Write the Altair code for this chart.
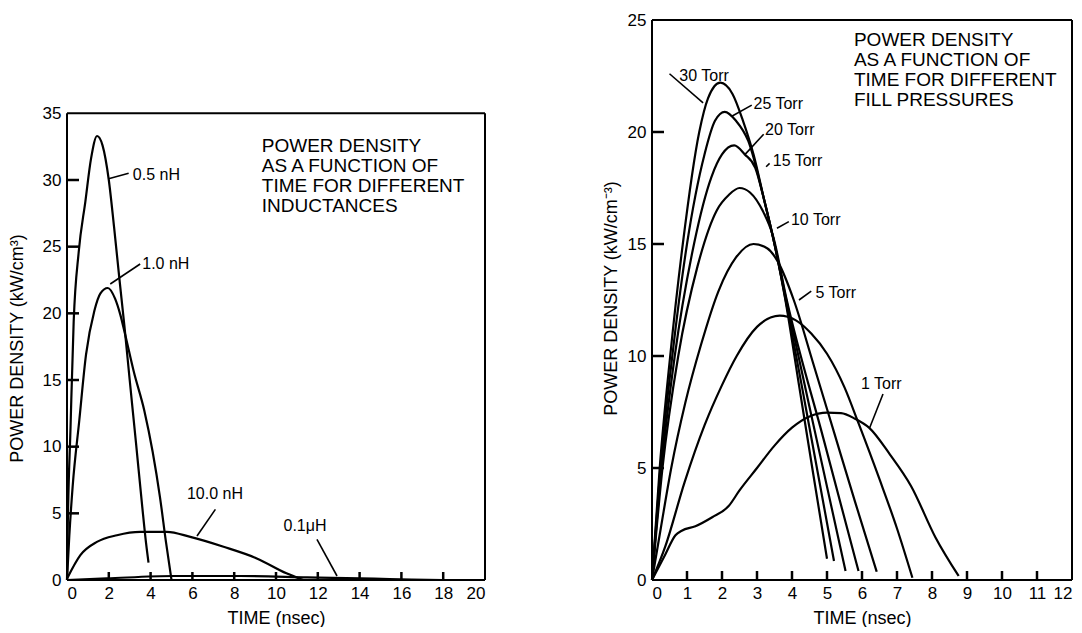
import altair as alt
import pandas as pd

# ---------------- Left panel: inductances ----------------
L_NAMES = ["0.5 nH", "1.0 nH", "10.0 nH", "0.1 uH"]
L_T_05 = [0, 0.03, 0.17, 0.32, 0.56, 0.88, 1.15, 1.44, 1.7, 2.0, 2.25, 2.5, 2.75, 3.0, 3.3, 3.6, 3.78, 3.9]
L_V_05 = [0, 3.4, 11.5, 19.4, 24.6, 28.4, 31.6, 33.3, 32.6, 30.0, 26.5, 22.7, 19.0, 15.0, 10.3, 5.5, 2.8, 1.3]
L_T_10 = [0, 0.11, 0.27, 0.59, 0.91, 1.31, 1.6, 1.95, 2.3, 2.55, 2.74, 3.2, 3.7, 4.1, 4.45, 4.74, 5.0]
L_V_10 = [0, 3.3, 7.0, 12.0, 16.9, 20.2, 21.5, 21.9, 21.1, 19.9, 18.7, 15.6, 12.7, 9.6, 6.2, 2.8, 0]
L_T_100 = [0, 0.64, 1.43, 2.39, 3.5, 4.78, 5.9, 7.49, 9.08, 10.5, 11.3]
L_V_100 = [0.1, 1.87, 2.86, 3.36, 3.61, 3.61, 3.23, 2.49, 1.62, 0.5, 0]
L_T_01U = [0, 1.9, 5.1, 8.3, 11.5, 14.7, 16.5, 18.0]
L_V_01U = [0, 0.12, 0.3, 0.3, 0.2, 0.1, 0.03, 0]

L_XTICKS = [0, 2, 4, 6, 8, 10, 12, 14, 16, 18, 20]
L_YTICKS = [0, 5, 10, 15, 20, 25, 30, 35]

L_LABELS = ["0.5 nH", "1.0 nH", "10.0 nH", "0.1\u03bcH"]
L_LABEL_T = [3.15, 3.6, 5.74, 10.36]
L_LABEL_V = [30.4, 23.7, 6.42, 4.05]
L_LEAD_T1 = [1.99, 2.07, 6.22, 11.96]
L_LEAD_V1 = [30.1, 22.2, 3.3, 3.05]
L_LEAD_T2 = [2.95, 3.5, 7.1, 12.92]
L_LEAD_V2 = [30.5, 23.7, 5.3, 0.3]
L_NOTE = "POWER DENSITY\nAS A FUNCTION OF\nTIME FOR DIFFERENT\nINDUCTANCES"
L_NOTE_T, L_NOTE_V = 9.32, 32.1

# ---------------- Right panel: fill pressures ----------------
R_NAMES = ["30 Torr", "25 Torr", "20 Torr", "15 Torr", "10 Torr", "5 Torr", "1 Torr"]
R_T_30 = [0, 0.22, 0.52, 0.88, 1.35, 1.6, 1.95, 2.3, 2.6, 2.9, 3.2, 3.5, 3.8, 4.2, 4.6, 5.0]
R_V_30 = [0, 5, 10, 15, 20, 21.5, 22.2, 21.7, 20.5, 19.0, 17.0, 15.0, 12.6, 8.7, 4.8, 0.95]
R_T_25 = [0, 0.24, 0.58, 1.0, 1.5, 1.8, 2.08, 2.4, 2.75, 3.2, 3.5, 3.82, 4.5, 5.2]
R_V_25 = [0, 5, 10, 15, 19.0, 20.5, 20.9, 20.5, 19.6, 17.0, 15.0, 12.5, 6.8, 0.85]
R_T_20 = [0, 0.27, 0.65, 1.2, 1.7, 2.0, 2.35, 2.65, 2.95, 3.2, 3.5, 3.85, 4.7, 5.53]
R_V_20 = [0, 5, 10, 15, 18.0, 19.0, 19.4, 19.0, 18.4, 17.0, 15.0, 12.4, 6.3, 0.4]
R_T_15 = [0, 0.3, 0.75, 1.3, 1.85, 2.2, 2.5, 2.8, 3.19, 3.45, 3.85, 4.9, 5.9]
R_V_15 = [0, 5, 10, 14, 16.5, 17.2, 17.5, 17.3, 16.4, 15.4, 12.5, 6.3, 0.4]
R_T_10 = [0, 0.25, 0.55, 0.95, 1.4, 1.9, 2.4, 2.9, 3.3, 3.6, 4.05, 4.6, 5.2, 5.8, 6.42]
R_V_10 = [0, 2.3, 5, 7.9, 10.5, 12.9, 14.4, 15.0, 14.8, 14.2, 12.5, 9.7, 6.6, 3.5, 0.37]
R_T_5 = [0, 0.38, 0.93, 1.5, 2.0, 2.42, 3.0, 3.65, 4.1, 4.55, 5.0, 5.5, 5.9, 6.5, 7.0, 7.44]
R_V_5 = [0, 1.5, 4.36, 6.9, 8.7, 10.0, 11.3, 11.8, 11.6, 11.0, 10.1, 8.6, 7.0, 4.5, 2.3, 0.1]
R_T_1 = [0, 0.38, 0.67, 0.85, 1.24, 1.72, 2.19, 2.5, 3.0, 3.5, 4.0, 4.5, 5.0, 5.4, 5.8, 6.2, 6.8, 7.4, 8.1, 8.76]
R_V_1 = [0, 1.14, 2.0, 2.2, 2.4, 2.8, 3.3, 4.0, 5.0, 6.0, 6.8, 7.3, 7.47, 7.45, 7.2, 6.8, 5.6, 4.2, 1.9, 0.18]

R_XTICKS = [0, 1, 2, 3, 4, 5, 6, 7, 8, 9, 10, 11, 12]
R_YTICKS = [0, 5, 10, 15, 20, 25]

R_LABELS = ["30 Torr", "25 Torr", "20 Torr", "15 Torr", "10 Torr", "5 Torr", "1 Torr"]
R_LABEL_T = [0.78, 2.9, 3.23, 3.45, 3.97, 4.67, 5.97]
R_LABEL_V = [22.5, 21.26, 20.1, 18.7, 16.07, 12.8, 8.73]
R_LEAD_T1 = [0.5, 2.28, 2.66, 3.26, 3.57, 4.2, 6.22]
R_LEAD_V1 = [22.6, 20.7, 19.0, 18.45, 15.7, 12.5, 6.8]
R_LEAD_T2 = [1.46, 2.85, 3.19, 3.36, 3.91, 4.55, 6.6]
R_LEAD_V2 = [21.3, 21.2, 19.9, 18.6, 16.0, 12.9, 8.3]
R_NOTE = "POWER DENSITY\nAS A FUNCTION OF\nTIME FOR DIFFERENT\nFILL PRESSURES"
R_NOTE_T, R_NOTE_V = 5.77, 23.82

FONT = "Liberation Sans"
H = 560


def curves_df(names, ts, vs):
    rows = []
    for name, t, v in zip(names, ts, vs):
        for i, (a, b) in enumerate(zip(t, v)):
            rows.append({"series": name, "i": i, "t": a, "v": b})
    return pd.DataFrame(rows)


def frame_df(xt, yt):
    x0, x1, y0, y1 = xt[0], xt[-1], yt[0], yt[-1]
    return pd.DataFrame({"t": [x0, x0, x0, x1], "v": [y0, y1, y0, y0],
                         "t2": [x1, x1, x0, x1], "v2": [y0, y1, y1, y1]})


def ticks_df(xt, yt, xdom, ydom, width, xtick_px, ytick_px):
    # inward tick length converted from pixels into data units
    dv = xtick_px * (ydom[1] - ydom[0]) / H
    dt = ytick_px * (xdom[1] - xdom[0]) / width
    rows = [{"t": t, "t2": t, "v": ydom[0], "v2": ydom[0] + dv} for t in xt[1:-1]]
    rows += [{"t": xdom[0], "t2": xdom[0] + dt, "v": v, "v2": v} for v in yt[1:-1]]
    return pd.DataFrame(rows)


def panel(curves, xt, yt, ydom, width, labels, lt, lv, a1, b1, a2, b2,
          note, nt, nv, ytitle, ytx, yty, xtick, ytick):
    xdom = [xt[0], xt[-1]]
    xs = alt.Scale(domain=xdom, nice=False, zero=False)
    ys = alt.Scale(domain=ydom, nice=False, zero=False)
    xax = alt.Axis(values=xt, title="TIME (nsec)", ticks=False,
                   domain=False, grid=False, labelPadding=5, titlePadding=8,
                   format="d", labelAngle=0)
    yax = alt.Axis(values=yt, title=ytitle, ticks=False,
                   domain=False, grid=False, labelPadding=6, format="d",
                   titleX=ytx, titleY=yty, titleAngle=270, titleAlign="center",
                   titleBaseline="middle")
    X = alt.X("t:Q", scale=xs, axis=xax)
    Y = alt.Y("v:Q", scale=ys, axis=yax)

    lines = alt.Chart(curves).mark_line(color="black", strokeWidth=2.2,
                                        interpolate="monotone").encode(
        x=X, y=Y, detail="series:N", order="i:Q")
    frame = alt.Chart(frame_df(xt, yt)).mark_rule(color="black", strokeWidth=2).encode(
        x=X, y=Y, x2="t2:Q", y2="v2:Q")
    ticks = alt.Chart(ticks_df(xt, yt, xdom, ydom, width, xtick, ytick)).mark_rule(
        color="black", strokeWidth=2.5).encode(x=X, y=Y, x2="t2:Q", y2="v2:Q")
    leads = alt.Chart(pd.DataFrame({"t": a1, "v": b1, "t2": a2, "v2": b2})).mark_rule(
        color="black", strokeWidth=1.6).encode(x=X, y=Y, x2="t2:Q", y2="v2:Q")
    txt = alt.Chart(pd.DataFrame({"t": lt, "v": lv, "s": labels})).mark_text(
        align="left", baseline="middle", font=FONT, fontSize=16, color="black").encode(
        x=X, y=Y, text="s:N")
    nt_ = alt.Chart(pd.DataFrame({"t": [nt], "v": [nv], "s": [note]})).mark_text(
        align="left", baseline="alphabetic", font=FONT, fontSize=19, lineHeight=20,
        lineBreak="\n", color="black").encode(x=X, y=Y, text="s:N")
    return alt.layer(lines, frame, ticks, leads, txt, nt_).properties(
        width=width, height=H)


left = panel(curves_df(L_NAMES, [L_T_05, L_T_10, L_T_100, L_T_01U],
                       [L_V_05, L_V_10, L_V_100, L_V_01U]),
             L_XTICKS, L_YTICKS, [0, 42], 418, L_LABELS, L_LABEL_T, L_LABEL_V,
             L_LEAD_T1, L_LEAD_V1, L_LEAD_T2, L_LEAD_V2, L_NOTE, L_NOTE_T, L_NOTE_V,
             "POWER DENSITY (kW/cm\u00b3)", -49.7, 328, 8, 12)

right = panel(curves_df(R_NAMES, [R_T_30, R_T_25, R_T_20, R_T_15, R_T_10, R_T_5, R_T_1],
                        [R_V_30, R_V_25, R_V_20, R_V_15, R_V_10, R_V_5, R_V_1]),
              R_XTICKS, R_YTICKS, [0, 25], 420, R_LABELS, R_LABEL_T, R_LABEL_V,
              R_LEAD_T1, R_LEAD_V1, R_LEAD_T2, R_LEAD_V2, R_NOTE, R_NOTE_T, R_NOTE_V,
              "POWER DENSITY (kW/cm\u207b\u00b3)", -41, 278, 9, 12)

chart = alt.hconcat(left, right, spacing=116).properties(
    padding={"left": 8, "top": 11, "right": 0, "bottom": 0},
    background="white",
).configure_view(stroke=None).configure_axis(
    labelFont=FONT, labelFontSize=17, labelColor="black",
    titleFont=FONT, titleFontSize=18, titleFontWeight="normal", titleColor="black",
)

chart.save("out.html", embed_options={"renderer": "svg", "actions": False})
